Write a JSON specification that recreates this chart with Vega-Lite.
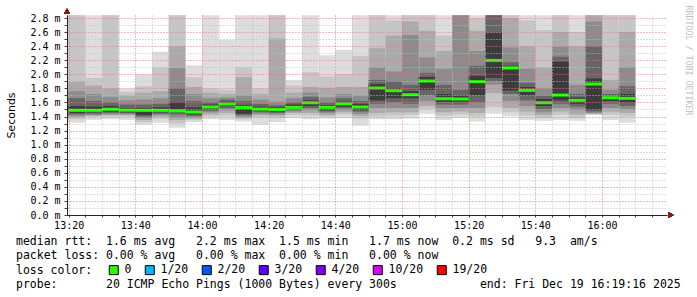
{
  "$schema": "https://vega.github.io/schema/vega-lite/v6.json",
  "width": 600,
  "height": 200,
  "autosize": {"type": "none"},
  "padding": {"left": 67, "top": 15, "right": 30, "bottom": 82},
  "background": "#ffffff",
  "config": {"view": {"stroke": null}},
  "title": {
    "text": [
      "median\u00a0rtt:\u00a0\u00a01.6\u00a0ms\u00a0avg\u00a0\u00a0\u00a02.2\u00a0ms\u00a0max\u00a0\u00a01.5\u00a0ms\u00a0min\u00a0\u00a0\u00a01.7\u00a0ms\u00a0now\u00a0\u00a00.2\u00a0ms\u00a0sd\u00a0\u00a0\u00a09.3\u00a0\u00a0am/s",
      "packet\u00a0loss:\u00a00.00\u00a0%\u00a0avg\u00a0\u00a0\u00a00.00\u00a0%\u00a0max\u00a0\u00a00.00\u00a0%\u00a0min\u00a0\u00a0\u00a00.00\u00a0%\u00a0now",
      "loss\u00a0color:",
      "probe:\u00a0\u00a0\u00a0\u00a0\u00a0\u00a0\u00a020\u00a0ICMP\u00a0Echo\u00a0Pings\u00a0(1000\u00a0Bytes)\u00a0every\u00a0300s\u00a0\u00a0\u00a0\u00a0\u00a0\u00a0\u00a0\u00a0\u00a0\u00a0\u00a0\u00a0end:\u00a0Fri\u00a0Dec\u00a019\u00a016:19:16\u00a02025"
    ],
    "orient": "bottom",
    "anchor": "start",
    "frame": "group",
    "dx": -51,
    "dy": -46,
    "offset": 5,
    "font": "DejaVu Sans Mono",
    "fontSize": 11.5,
    "fontWeight": "normal",
    "color": "#000000",
    "lineHeight": 14.3,
    "baseline": "top"
  },
  "data": {
    "values": [
      {"t": "2025-12-19T13:15:00", "t2": "2025-12-19T13:20:00", "med": 1.45, "h1": 2.84, "h2": 2.84, "h3": 1.9, "h4": 1.76, "h5": 1.66, "h6": 1.55, "l6": 1.42, "l5": 1.41, "l4": 1.4, "l3": 1.38, "l2": 1.36, "l1": 1.31, "loss": "0"},
      {"t": "2025-12-19T13:20:00", "t2": "2025-12-19T13:25:00", "med": 1.488, "h1": 2.84, "h2": 2.84, "h3": 1.9, "h4": 1.76, "h5": 1.66, "h6": 1.55, "l6": 1.45, "l5": 1.43, "l4": 1.41, "l3": 1.39, "l2": 1.36, "l1": 1.31, "loss": "0"},
      {"t": "2025-12-19T13:25:00", "t2": "2025-12-19T13:30:00", "med": 1.488, "h1": 2.84, "h2": 1.95, "h3": 1.84, "h4": 1.72, "h5": 1.62, "h6": 1.54, "l6": 1.46, "l5": 1.44, "l4": 1.42, "l3": 1.41, "l2": 1.4, "l1": 1.35, "loss": "0"},
      {"t": "2025-12-19T13:30:00", "t2": "2025-12-19T13:35:00", "med": 1.504, "h1": 2.84, "h2": 2.84, "h3": 1.8, "h4": 1.68, "h5": 1.6, "h6": 1.55, "l6": 1.47, "l5": 1.45, "l4": 1.43, "l3": 1.42, "l2": 1.4, "l1": 1.36, "loss": "0"},
      {"t": "2025-12-19T13:35:00", "t2": "2025-12-19T13:40:00", "med": 1.49, "h1": 1.8, "h2": 1.75, "h3": 1.7, "h4": 1.63, "h5": 1.57, "h6": 1.52, "l6": 1.46, "l5": 1.45, "l4": 1.43, "l3": 1.42, "l2": 1.4, "l1": 1.35, "loss": "0"},
      {"t": "2025-12-19T13:40:00", "t2": "2025-12-19T13:45:00", "med": 1.488, "h1": 2.0, "h2": 1.83, "h3": 1.74, "h4": 1.64, "h5": 1.57, "h6": 1.52, "l6": 1.42, "l5": 1.4, "l4": 1.38, "l3": 1.35, "l2": 1.32, "l1": 1.28, "loss": "0"},
      {"t": "2025-12-19T13:45:00", "t2": "2025-12-19T13:50:00", "med": 1.488, "h1": 2.32, "h2": 2.1, "h3": 1.76, "h4": 1.66, "h5": 1.58, "h6": 1.53, "l6": 1.46, "l5": 1.44, "l4": 1.42, "l3": 1.4, "l2": 1.37, "l1": 1.31, "loss": "0"},
      {"t": "2025-12-19T13:50:00", "t2": "2025-12-19T13:55:00", "med": 1.48, "h1": 2.84, "h2": 2.84, "h3": 2.4, "h4": 2.09, "h5": 1.8, "h6": 1.6, "l6": 1.46, "l5": 1.43, "l4": 1.39, "l3": 1.35, "l2": 1.3, "l1": 1.24, "loss": "0"},
      {"t": "2025-12-19T13:55:00", "t2": "2025-12-19T14:00:00", "med": 1.464, "h1": 2.13, "h2": 1.96, "h3": 1.82, "h4": 1.72, "h5": 1.62, "h6": 1.53, "l6": 1.43, "l5": 1.41, "l4": 1.39, "l3": 1.37, "l2": 1.35, "l1": 1.32, "loss": "0"},
      {"t": "2025-12-19T14:00:00", "t2": "2025-12-19T14:05:00", "med": 1.535, "h1": 2.84, "h2": 1.8, "h3": 1.74, "h4": 1.66, "h5": 1.6, "h6": 1.57, "l6": 1.5, "l5": 1.48, "l4": 1.46, "l3": 1.43, "l2": 1.4, "l1": 1.36, "loss": "0"},
      {"t": "2025-12-19T14:05:00", "t2": "2025-12-19T14:10:00", "med": 1.578, "h1": 2.49, "h2": 1.78, "h3": 1.72, "h4": 1.67, "h5": 1.64, "h6": 1.61, "l6": 1.55, "l5": 1.52, "l4": 1.49, "l3": 1.45, "l2": 1.41, "l1": 1.35, "loss": "0"},
      {"t": "2025-12-19T14:10:00", "t2": "2025-12-19T14:15:00", "med": 1.528, "h1": 2.84, "h2": 2.1, "h3": 1.96, "h4": 1.7, "h5": 1.62, "h6": 1.56, "l6": 1.44, "l5": 1.42, "l4": 1.4, "l3": 1.38, "l2": 1.36, "l1": 1.33, "loss": "0"},
      {"t": "2025-12-19T14:15:00", "t2": "2025-12-19T14:20:00", "med": 1.506, "h1": 2.84, "h2": 1.8, "h3": 1.72, "h4": 1.64, "h5": 1.58, "h6": 1.54, "l6": 1.48, "l5": 1.46, "l4": 1.44, "l3": 1.42, "l2": 1.39, "l1": 1.28, "loss": "0"},
      {"t": "2025-12-19T14:20:00", "t2": "2025-12-19T14:25:00", "med": 1.5, "h1": 2.84, "h2": 2.84, "h3": 2.51, "h4": 1.61, "h5": 1.56, "h6": 1.53, "l6": 1.47, "l5": 1.45, "l4": 1.43, "l3": 1.41, "l2": 1.38, "l1": 1.32, "loss": "0"},
      {"t": "2025-12-19T14:25:00", "t2": "2025-12-19T14:30:00", "med": 1.53, "h1": 1.92, "h2": 1.84, "h3": 1.74, "h4": 1.66, "h5": 1.6, "h6": 1.57, "l6": 1.51, "l5": 1.49, "l4": 1.47, "l3": 1.45, "l2": 1.42, "l1": 1.38, "loss": "0"},
      {"t": "2025-12-19T14:30:00", "t2": "2025-12-19T14:35:00", "med": 1.595, "h1": 2.84, "h2": 2.03, "h3": 1.82, "h4": 1.74, "h5": 1.68, "h6": 1.63, "l6": 1.55, "l5": 1.52, "l4": 1.49, "l3": 1.45, "l2": 1.41, "l1": 1.36, "loss": "0"},
      {"t": "2025-12-19T14:35:00", "t2": "2025-12-19T14:40:00", "med": 1.53, "h1": 2.27, "h2": 1.97, "h3": 1.81, "h4": 1.67, "h5": 1.6, "h6": 1.56, "l6": 1.49, "l5": 1.47, "l4": 1.45, "l3": 1.42, "l2": 1.4, "l1": 1.37, "loss": "0"},
      {"t": "2025-12-19T14:40:00", "t2": "2025-12-19T14:45:00", "med": 1.58, "h1": 2.35, "h2": 2.0, "h3": 1.82, "h4": 1.72, "h5": 1.66, "h6": 1.61, "l6": 1.54, "l5": 1.52, "l4": 1.49, "l3": 1.46, "l2": 1.43, "l1": 1.38, "loss": "0"},
      {"t": "2025-12-19T14:45:00", "t2": "2025-12-19T14:50:00", "med": 1.535, "h1": 2.84, "h2": 2.26, "h3": 1.82, "h4": 1.7, "h5": 1.62, "h6": 1.58, "l6": 1.49, "l5": 1.47, "l4": 1.44, "l3": 1.41, "l2": 1.37, "l1": 1.27, "loss": "0"},
      {"t": "2025-12-19T14:50:00", "t2": "2025-12-19T14:55:00", "med": 1.805, "h1": 2.84, "h2": 2.84, "h3": 2.37, "h4": 2.1, "h5": 1.92, "h6": 1.86, "l6": 1.63, "l5": 1.58, "l4": 1.52, "l3": 1.45, "l2": 1.4, "l1": 1.36, "loss": "0"},
      {"t": "2025-12-19T14:55:00", "t2": "2025-12-19T15:00:00", "med": 1.767, "h1": 2.84, "h2": 2.77, "h3": 2.55, "h4": 2.04, "h5": 1.9, "h6": 1.8, "l6": 1.66, "l5": 1.6, "l4": 1.52, "l3": 1.46, "l2": 1.41, "l1": 1.36, "loss": "0"},
      {"t": "2025-12-19T15:00:00", "t2": "2025-12-19T15:05:00", "med": 1.71, "h1": 2.84, "h2": 2.84, "h3": 2.75, "h4": 2.56, "h5": 1.85, "h6": 1.76, "l6": 1.66, "l5": 1.58, "l4": 1.52, "l3": 1.46, "l2": 1.42, "l1": 1.37, "loss": "0"},
      {"t": "2025-12-19T15:05:00", "t2": "2025-12-19T15:10:00", "med": 1.905, "h1": 2.84, "h2": 2.84, "h3": 2.62, "h4": 2.24, "h5": 2.02, "h6": 1.96, "l6": 1.78, "l5": 1.7, "l4": 1.62, "l3": 1.55, "l2": 1.5, "l1": 1.44, "loss": "0"},
      {"t": "2025-12-19T15:10:00", "t2": "2025-12-19T15:15:00", "med": 1.653, "h1": 2.84, "h2": 2.55, "h3": 2.33, "h4": 2.08, "h5": 1.85, "h6": 1.72, "l6": 1.61, "l5": 1.57, "l4": 1.52, "l3": 1.46, "l2": 1.41, "l1": 1.35, "loss": "0"},
      {"t": "2025-12-19T15:15:00", "t2": "2025-12-19T15:20:00", "med": 1.649, "h1": 2.84, "h2": 2.84, "h3": 2.84, "h4": 2.84, "h5": 1.78, "h6": 1.7, "l6": 1.61, "l5": 1.57, "l4": 1.52, "l3": 1.47, "l2": 1.43, "l1": 1.38, "loss": "0"},
      {"t": "2025-12-19T15:20:00", "t2": "2025-12-19T15:25:00", "med": 1.895, "h1": 2.84, "h2": 2.8, "h3": 2.62, "h4": 2.33, "h5": 2.12, "h6": 1.98, "l6": 1.7, "l5": 1.6, "l4": 1.52, "l3": 1.45, "l2": 1.4, "l1": 1.33, "loss": "0"},
      {"t": "2025-12-19T15:25:00", "t2": "2025-12-19T15:30:00", "med": 2.198, "h1": 2.84, "h2": 2.84, "h3": 2.84, "h4": 2.84, "h5": 2.84, "h6": 2.59, "l6": 1.95, "l5": 1.9, "l4": 1.85, "l3": 1.73, "l2": 1.53, "l1": 1.44, "loss": "0"},
      {"t": "2025-12-19T15:30:00", "t2": "2025-12-19T15:35:00", "med": 2.09, "h1": 2.84, "h2": 2.84, "h3": 2.8, "h4": 2.38, "h5": 2.17, "h6": 2.12, "l6": 1.77, "l5": 1.72, "l4": 1.62, "l3": 1.52, "l2": 1.46, "l1": 1.4, "loss": "0"},
      {"t": "2025-12-19T15:35:00", "t2": "2025-12-19T15:40:00", "med": 1.772, "h1": 2.84, "h2": 2.77, "h3": 2.4, "h4": 2.08, "h5": 1.88, "h6": 1.82, "l6": 1.7, "l5": 1.63, "l4": 1.55, "l3": 1.47, "l2": 1.41, "l1": 1.35, "loss": "0"},
      {"t": "2025-12-19T15:40:00", "t2": "2025-12-19T15:45:00", "med": 1.596, "h1": 2.84, "h2": 2.63, "h3": 2.1, "h4": 1.8, "h5": 1.7, "h6": 1.65, "l6": 1.55, "l5": 1.5, "l4": 1.46, "l3": 1.42, "l2": 1.38, "l1": 1.34, "loss": "0"},
      {"t": "2025-12-19T15:45:00", "t2": "2025-12-19T15:50:00", "med": 1.705, "h1": 2.84, "h2": 2.84, "h3": 2.6, "h4": 2.39, "h5": 2.25, "h6": 2.18, "l6": 1.63, "l5": 1.58, "l4": 1.52, "l3": 1.47, "l2": 1.42, "l1": 1.35, "loss": "0"},
      {"t": "2025-12-19T15:50:00", "t2": "2025-12-19T15:55:00", "med": 1.63, "h1": 2.84, "h2": 2.6, "h3": 2.4, "h4": 1.85, "h5": 1.72, "h6": 1.67, "l6": 1.58, "l5": 1.54, "l4": 1.49, "l3": 1.43, "l2": 1.38, "l1": 1.34, "loss": "0"},
      {"t": "2025-12-19T15:55:00", "t2": "2025-12-19T16:00:00", "med": 1.862, "h1": 2.84, "h2": 2.84, "h3": 2.84, "h4": 2.75, "h5": 2.4, "h6": 1.94, "l6": 1.49, "l5": 1.47, "l4": 1.45, "l3": 1.44, "l2": 1.43, "l1": 1.42, "loss": "0"},
      {"t": "2025-12-19T16:00:00", "t2": "2025-12-19T16:05:00", "med": 1.667, "h1": 2.84, "h2": 2.84, "h3": 1.92, "h4": 1.78, "h5": 1.72, "h6": 1.69, "l6": 1.62, "l5": 1.58, "l4": 1.52, "l3": 1.47, "l2": 1.42, "l1": 1.35, "loss": "0"},
      {"t": "2025-12-19T16:05:00", "t2": "2025-12-19T16:10:00", "med": 1.658, "h1": 2.84, "h2": 2.84, "h3": 2.6, "h4": 2.1, "h5": 1.83, "h6": 1.72, "l6": 1.6, "l5": 1.55, "l4": 1.5, "l3": 1.45, "l2": 1.4, "l1": 1.31, "loss": "0"}
    ]
  },
  "layer": [
    {
      "mark": {"type": "rect", "color": "#dddddd", "clip": true},
      "encoding": {
        "x": {"field": "t", "type": "temporal",
          "scale": {"domain": [{"year": 2025, "month": 12, "date": 19, "hours": 13, "minutes": 19, "seconds": 30}, {"year": 2025, "month": 12, "date": 19, "hours": 16, "minutes": 19, "seconds": 30}]},
          "axis": {
            "tickCount": 36,
            "labelExpr": "minutes(datum.value) % 20 === 0 ? timeFormat(datum.value, '%H:%M') : ''",
            "labelFont": "DejaVu Sans Mono", "labelFontSize": 10, "labelColor": "#000000", "labelPadding": 3,
            "labelFlush": false, "labelOverlap": false, "labelBound": false,
            "grid": true,
            "gridColor": {"condition": {"test": "minutes(datum.value) % 20 === 0", "value": "#e07a7a"}, "value": "#c0c0c0"},
            "gridDash": [1, 2],
            "ticks": true, "tickSize": 2, "tickColor": "#444444",
            "domain": true, "domainColor": "#222222",
            "title": "RRDTOOL / TOBI OETIKER",
            "titleFont": "DejaVu Sans Mono", "titleFontSize": 8.3, "titleFontWeight": "normal", "titleColor": "#c0c0c0",
            "titleAngle": 90, "titleX": 620, "titleY": -210, "titleAlign": "left", "titleBaseline": "middle",
            "zindex": 1
          }},
        "x2": {"field": "t2"},
        "y": {"field": "h1", "type": "quantitative", "scale": {"domain": [0, 2.843], "nice": false},
          "axis": {
            "values": [0,0.1,0.2,0.3,0.4,0.5,0.6,0.7,0.8,0.9,1.0,1.1,1.2,1.3,1.4,1.5,1.6,1.7,1.8,1.9,2.0,2.1,2.2,2.3,2.4,2.5,2.6,2.7,2.8],
            "tickCount": 40,
            "labelExpr": "round(datum.value * 10) % 2 === 0 ? format(datum.value, '.1f') + ' m' : ''",
            "labelFont": "DejaVu Sans Mono", "labelFontSize": 10, "labelColor": "#000000", "labelPadding": 4,
            "labelOverlap": false, "labelFlush": false, "labelBound": false,
            "grid": true,
            "gridColor": {"condition": {"test": "round(datum.value * 10) % 2 === 0", "value": "#e07a7a"}, "value": "#c0c0c0"},
            "gridDash": [1, 2],
            "ticks": true, "tickSize": 3, "tickColor": "#444444",
            "domain": true, "domainColor": "#222222",
            "title": "Seconds", "titleFont": "DejaVu Sans", "titleFontSize": 11, "titleFontWeight": "normal", "titleColor": "#000000",
            "titleAngle": -90, "titleX": -56, "titleY": 100, "titleAlign": "center", "titleBaseline": "middle",
            "zindex": 1
          }},
        "y2": {"field": "l1"}
      }
    },
    {
      "mark": {"type": "rect", "color": "#c6c6c6", "clip": true},
      "encoding": {
        "x": {"field": "t", "type": "temporal"},
        "x2": {"field": "t2"},
        "y": {"field": "h2", "type": "quantitative"},
        "y2": {"field": "l2"}
      }
    },
    {
      "mark": {"type": "rect", "color": "#aaaaaa", "clip": true},
      "encoding": {
        "x": {"field": "t", "type": "temporal"},
        "x2": {"field": "t2"},
        "y": {"field": "h3", "type": "quantitative"},
        "y2": {"field": "l3"}
      }
    },
    {
      "mark": {"type": "rect", "color": "#8c8c8c", "clip": true},
      "encoding": {
        "x": {"field": "t", "type": "temporal"},
        "x2": {"field": "t2"},
        "y": {"field": "h4", "type": "quantitative"},
        "y2": {"field": "l4"}
      }
    },
    {
      "mark": {"type": "rect", "color": "#666666", "clip": true},
      "encoding": {
        "x": {"field": "t", "type": "temporal"},
        "x2": {"field": "t2"},
        "y": {"field": "h5", "type": "quantitative"},
        "y2": {"field": "l5"}
      }
    },
    {
      "mark": {"type": "rect", "color": "#3c3c3c", "clip": true},
      "encoding": {
        "x": {"field": "t", "type": "temporal"},
        "x2": {"field": "t2"},
        "y": {"field": "h6", "type": "quantitative"},
        "y2": {"field": "l6"}
      }
    },
    {
      "mark": {"type": "rect", "clip": true, "yOffset": -1.5, "y2Offset": 1.5},
      "encoding": {
        "x": {"field": "t", "type": "temporal"},
        "x2": {"field": "t2"},
        "y": {"field": "med", "type": "quantitative"},
        "y2": {"field": "med"},
        "color": {"field": "loss", "type": "nominal",
          "scale": {"domain": ["0", "1/20", "2/20", "3/20", "4/20", "10/20", "19/20"], "range": ["#26ff00", "#00b8ff", "#0059ff", "#5e00ff", "#7e00ff", "#dd00ff", "#ff0000"]},
          "legend": {"title": null, "orient": "none", "legendX": 41, "legendY": 249, "direction": "horizontal", "columns": 7, "labelFont": "DejaVu Sans Mono", "labelFontSize": 11.5, "labelColor": "#000000", "labelOffset": 5, "symbolType": "square", "symbolSize": 81, "symbolStrokeColor": "#000000", "symbolStrokeWidth": 1, "columnPadding": 11}}
      }
    },
    {
      "mark": {"type": "point", "shape": "triangle-right", "filled": true, "color": "#8b1a1a", "opacity": 1, "size": 28, "xOffset": 4},
      "encoding": {
        "x": {"datum": {"year": 2025, "month": 12, "date": 19, "hours": 16, "minutes": 19, "seconds": 30}, "type": "temporal"},
        "y": {"datum": 0, "type": "quantitative"}
      }
    },
    {
      "mark": {"type": "point", "shape": "triangle-up", "filled": true, "color": "#8b1a1a", "opacity": 1, "size": 28, "yOffset": -4},
      "encoding": {
        "x": {"datum": {"year": 2025, "month": 12, "date": 19, "hours": 13, "minutes": 19, "seconds": 30}, "type": "temporal"},
        "y": {"datum": 2.843, "type": "quantitative"}
      }
    }
  ]
}
